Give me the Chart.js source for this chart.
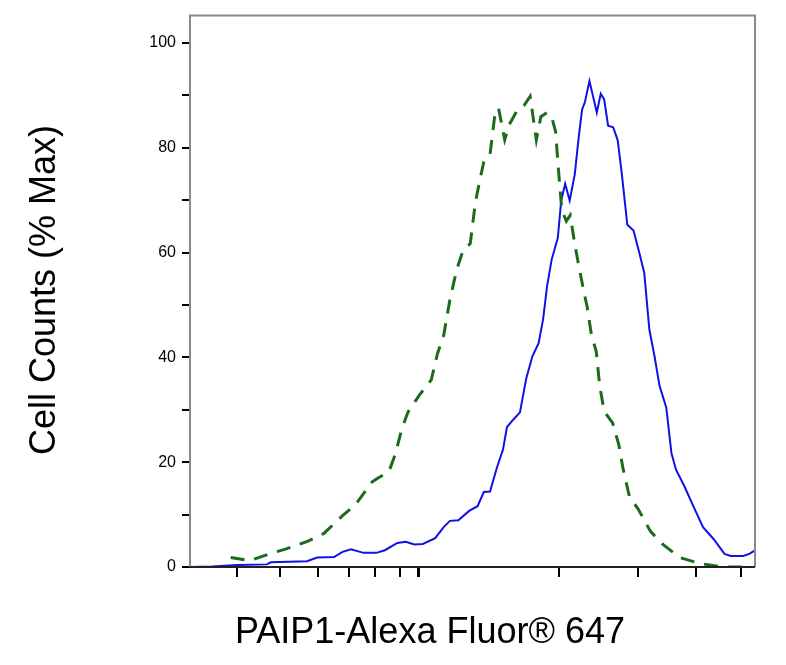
<!DOCTYPE html>
<html><head><meta charset="utf-8">
<script src="https://cdn.jsdelivr.net/npm/chart.js@4"></script>
<style>html,body{margin:0;padding:0;background:#fff}#w{width:786px;height:665px}</style>
</head><body><div id="w"><canvas id="c"></canvas></div>
<script>
const blueX=[0,3.9,8.4,13.6,14.3,20.7,22.5,25.5,27.0,28.5,30.7,33.0,34.5,36.7,38.2,39.7,41.2,43.4,44.9,46.0,47.5,49.4,50.9,52.0,53.1,54.3,55.4,56.1,57.2,58.4,59.5,60.6,61.7,62.5,63.2,64.0,65.1,65.7,66.4,67.2,68.1,68.8,69.4,69.9,70.7,71.4,72.0,72.7,73.3,74.0,74.9,75.7,76.4,77.4,78.5,79.6,80.4,81.3,82.2,83.1,84.3,85.2,86.0,87.5,89.0,90.8,92.7,94.6,95.7,97.9,99.0,100];
const blueY=[0,0.1,0.4,0.5,0.9,1.1,1.8,1.9,2.9,3.4,2.7,2.7,3.2,4.6,4.8,4.3,4.4,5.5,7.6,8.8,8.9,10.7,11.6,14.3,14.4,18.9,22.4,26.7,28.1,29.5,35.9,40.2,42.7,47.3,53.6,58.6,62.8,69.9,73.1,69.9,74.9,82.0,87.3,88.7,92.7,89.5,86.7,90.3,89.2,84.2,83.9,81.4,75.3,65.3,64.2,59.6,56.1,45.3,40.3,34.6,30.4,21.8,18.6,15.4,11.8,7.6,5.3,2.5,2.1,2.1,2.5,3.2];
const greenX=[7.2,10.6,14.3,16.9,21.0,23.7,27.0,29.3,32.2,33.0,35.2,36.3,37.5,38.6,40.6,42.7,43.8,44.9,46.0,47.2,48.3,49.6,50.5,51.3,52.0,53.1,53.9,54.6,55.7,56.5,58.0,59.1,60.2,61.3,62.1,63.2,64.0,64.7,65.2,65.8,66.6,67.3,68.1,68.7,69.6,70.3,71.0,71.9,72.5,73.3,74.8,75.9,76.6,77.8,79.3,81.5,83.7,86.7,90.1,94.2,97.8];
const greenY=[1.8,1.2,2.6,3.4,5.0,6.4,9.8,11.9,16.2,16.8,18.2,21.4,26.4,29.6,32.8,35.7,40.7,44.2,51.0,56.7,60.3,61.7,69.5,73.8,77.3,78.7,85.8,87.6,81.5,84.4,87.3,88.0,89.8,81.5,85.9,86.7,85.9,83.1,76.0,68.1,66.0,67.1,61.6,58.1,53.1,49.6,44.6,41.1,34.7,29.7,27.5,23.3,19.0,13.3,11.1,6.8,4.3,1.8,0.7,0,0];
const xTickValues=[8.4,16.0,22.7,28.2,32.8,37.1,40.4,65.3,79.3,89.6,97.6];
const xMajorTick=40.4;
const yLabelValues=[0,20,40,60,80,100];
const xTitle="PAIP1-Alexa Fluor\u00AE 647";
const yTitle="Cell Counts (% Max)";

const pts=(xs,ys)=>xs.map((x,i)=>({x:x,y:ys[i]}));
const frame={id:'frame',afterDraw(ch){const a=ch.chartArea,c=ch.ctx;c.save();
 c.strokeStyle='#8a8a8a';c.lineWidth=2;c.beginPath();c.moveTo(a.left,a.bottom);c.lineTo(a.left,a.top);c.lineTo(a.right,a.top);c.lineTo(a.right,a.bottom);c.stroke();
 c.strokeStyle='#222';c.beginPath();c.moveTo(a.left,a.bottom);c.lineTo(a.right,a.bottom);c.stroke();
 c.fillStyle='#000';c.font='36px "Liberation Sans", Arial';c.textAlign='center';c.textBaseline='middle';
 c.fillText(xTitle,430,633);
 c.translate(45,290);c.rotate(-Math.PI/2);c.fillText(yTitle,0,0);c.restore();}};
new Chart(document.getElementById('c'),{type:'line',
 data:{datasets:[
  {data:pts(greenX,greenY),borderColor:'#1c6a1c',borderWidth:3,borderDash:[14,10],pointRadius:0,tension:0,fill:false},
  {data:pts(blueX,blueY),borderColor:'#1010e8',borderWidth:2,pointRadius:0,tension:0,fill:false}]},
 options:{responsive:true,maintainAspectRatio:false,animation:false,
  layout:{padding:{top:-5,right:31,left:0,bottom:0}},
  plugins:{legend:{display:false},tooltip:{enabled:false}},
  scales:{
   x:{type:'linear',min:0,max:100,
    afterBuildTicks(s){s.ticks=xTickValues.map(v=>({value:v}));},
    afterFit(s){s.height=98;},
    ticks:{callback:()=>'',autoSkip:false},
    grid:{drawOnChartArea:false,tickLength:10,tickColor:'#000',lineWidth:c=>c.tick&&c.tick.value===xMajorTick?3:2},
    border:{display:false}},
   y:{min:0,max:105.2,
    afterBuildTicks(s){const t=[];for(let v=0;v<=100;v+=10)t.push({value:v});s.ticks=t;},
    afterFit(s){s.width=190;},
    ticks:{autoSkip:false,color:'#000',font:{size:16,family:'"Liberation Sans", Arial'},padding:6,
     callback:v=>yLabelValues.includes(v)?String(v):''},
    grid:{drawOnChartArea:false,tickLength:8,tickColor:'#000',lineWidth:2},
    border:{display:false}}}},
 plugins:[frame]});
</script></body></html>
